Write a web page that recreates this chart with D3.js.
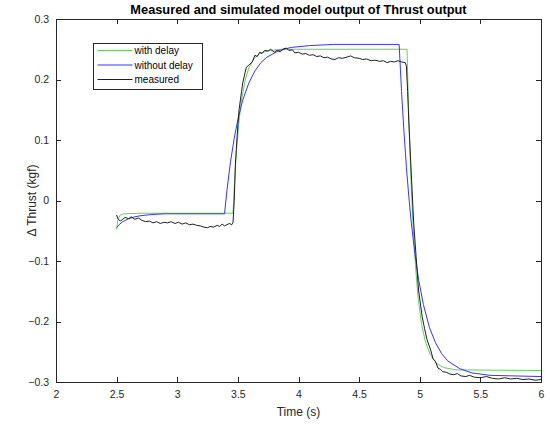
<!DOCTYPE html>
<meta charset="UTF-8">
<style>
  body { margin: 0; background: #fff; }
  svg { font-family: "Liberation Sans", Arial, sans-serif; }
</style>
<svg width="550" height="425"></svg>
<script src="https://cdn.jsdelivr.net/npm/d3@7"></script>
<script>

// series: [time (s), delta thrust (kgf)]
var withDelay = [
  [2.50, -0.048], [2.51, -0.032], [2.53, -0.024], [2.56, -0.022], [2.70, -0.021],
  [3.46, -0.021], [3.47, 0.021], [3.48, 0.056], [3.49, 0.086], [3.51, 0.132],
  [3.53, 0.166], [3.56, 0.199], [3.59, 0.219], [3.63, 0.234], [3.68, 0.243],
  [3.76, 0.248], [3.86, 0.250], [4.895, 0.250], [4.905, 0.170], [4.915, 0.104],
  [4.93, 0.022], [4.945, -0.042], [4.965, -0.108], [4.985, -0.158], [5.015, -0.205],
  [5.045, -0.232], [5.085, -0.254], [5.135, -0.269], [5.195, -0.276], [5.30, -0.280],
  [6.00, -0.281]
];

var withoutDelay = [
  [2.50, -0.045], [2.52, -0.040], [2.55, -0.035], [2.60, -0.030], [2.65, -0.027],
  [2.70, -0.025], [2.80, -0.023], [2.90, -0.022], [3.39, -0.022], [3.41, 0.017],
  [3.44, 0.065], [3.47, 0.103], [3.50, 0.134], [3.54, 0.166], [3.59, 0.194],
  [3.64, 0.214], [3.69, 0.228], [3.74, 0.237], [3.84, 0.248], [3.94, 0.253],
  [4.09, 0.256], [4.29, 0.258], [4.83, 0.258], [4.85, 0.180], [4.87, 0.113],
  [4.89, 0.055], [4.91, 0.006], [4.93, -0.036], [4.96, -0.088], [4.99, -0.130],
  [5.03, -0.172], [5.08, -0.210], [5.13, -0.235], [5.18, -0.253], [5.23, -0.265],
  [5.33, -0.278], [5.43, -0.285], [5.58, -0.289], [6.00, -0.291]
];

var measured = [
  [2.50, -0.024], [2.51, -0.030], [2.53, -0.034], [2.55, -0.031], [2.57, -0.028],
  [2.60, -0.030], [2.62, -0.027], [2.65, -0.031], [2.68, -0.029], [2.71, -0.033],
  [2.74, -0.035], [2.77, -0.034], [2.80, -0.037], [2.83, -0.035], [2.86, -0.038],
  [2.89, -0.036], [2.92, -0.037], [2.95, -0.035], [2.98, -0.038], [3.01, -0.036],
  [3.04, -0.039], [3.07, -0.037], [3.10, -0.040], [3.13, -0.039], [3.16, -0.041],
  [3.19, -0.042], [3.22, -0.044], [3.25, -0.045], [3.27, -0.043], [3.30, -0.044],
  [3.33, -0.041], [3.35, -0.043], [3.37, -0.039], [3.39, -0.042], [3.41, -0.040],
  [3.43, -0.038], [3.45, -0.040], [3.46, -0.036], [3.47, 0.000], [3.48, 0.062],
  [3.50, 0.125], [3.51, 0.150], [3.53, 0.180], [3.54, 0.194], [3.56, 0.212],
  [3.57, 0.220], [3.59, 0.224], [3.62, 0.229], [3.64, 0.240], [3.66, 0.238],
  [3.68, 0.245], [3.70, 0.243], [3.72, 0.248], [3.75, 0.247], [3.77, 0.250],
  [3.80, 0.245], [3.82, 0.248], [3.85, 0.246], [3.88, 0.251], [3.90, 0.252],
  [3.92, 0.248], [3.95, 0.249], [3.97, 0.244], [4.00, 0.245], [4.03, 0.242],
  [4.06, 0.243], [4.09, 0.240], [4.12, 0.241], [4.15, 0.238], [4.18, 0.239],
  [4.21, 0.236], [4.24, 0.237], [4.27, 0.234], [4.30, 0.233], [4.33, 0.236],
  [4.36, 0.235], [4.40, 0.237], [4.43, 0.239], [4.46, 0.236], [4.50, 0.235],
  [4.53, 0.233], [4.56, 0.234], [4.60, 0.231], [4.63, 0.232], [4.67, 0.230],
  [4.70, 0.231], [4.73, 0.228], [4.76, 0.230], [4.79, 0.229], [4.82, 0.231],
  [4.85, 0.229], [4.88, 0.228], [4.89, 0.222], [4.90, 0.180], [4.91, 0.130],
  [4.93, 0.045], [4.95, -0.037], [4.97, -0.093], [4.99, -0.148], [5.02, -0.192],
  [5.04, -0.212], [5.06, -0.230], [5.09, -0.247], [5.11, -0.262], [5.13, -0.266],
  [5.15, -0.277], [5.17, -0.279], [5.19, -0.283], [5.22, -0.284], [5.25, -0.287],
  [5.28, -0.288], [5.31, -0.286], [5.34, -0.290], [5.38, -0.291], [5.41, -0.289],
  [5.45, -0.292], [5.50, -0.293], [5.55, -0.291], [5.60, -0.294], [5.65, -0.295],
  [5.70, -0.293], [5.75, -0.295], [5.80, -0.294], [5.85, -0.296], [5.90, -0.295],
  [5.95, -0.297], [6.00, -0.296]
];

var xTicks = [2, 2.5, 3, 3.5, 4, 4.5, 5, 5.5, 6];
var yTicks = [-0.3, -0.2, -0.1, 0, 0.1, 0.2, 0.3];
var seriesNames = ["with delay", "without delay", "measured"];

var svg = d3.select("svg"),
    margin = {top: 19, right: 9, bottom: 43, left: 56},
    width = 550 - margin.left - margin.right,
    height = 425 - margin.top - margin.bottom,
    axisColor = "#262626";

var x = d3.scaleLinear().domain([2, 6]).range([0, width]);
var y = d3.scaleLinear().domain([-0.3, 0.3]).range([height, 0]);

var g = svg.append("g").attr("transform", "translate(" + margin.left + "," + margin.top + ")");

var line = d3.line().x(d => x(d[0])).y(d => y(d[1]));

var series = [
  {data: withDelay, color: "#62cf62"},
  {data: withoutDelay, color: "#3535ff"},
  {data: measured, color: "#1f1f1f"}
];

series.forEach(function(s) {
  g.append("path").datum(s.data)
      .attr("fill", "none")
      .attr("stroke", s.color)
      .attr("stroke-width", 1)
      .attr("d", line);
});

// axes with inward ticks, MATLAB box style
function styleAxis(sel, showLabels) {
  sel.select(".domain").remove();
  sel.selectAll("line").attr("stroke", axisColor).attr("shape-rendering", "crispEdges");
  sel.selectAll("text").attr("fill", axisColor).attr("font-size", 10.5)
      .style("display", showLabels ? null : "none");
}

g.append("g").attr("transform", "translate(0," + height + ")")
    .call(d3.axisBottom(x).tickValues(xTicks).tickSize(-5).tickPadding(9).tickFormat(d3.format("")))
    .call(sel => styleAxis(sel, true));
g.append("g")
    .call(d3.axisTop(x).tickValues(xTicks).tickSize(-5).tickFormat(""))
    .call(sel => styleAxis(sel, false));
g.append("g")
    .call(d3.axisLeft(y).tickValues(yTicks).tickSize(-5).tickPadding(7).tickFormat(d3.format("")))
    .call(sel => styleAxis(sel, true));
g.append("g").attr("transform", "translate(" + width + ",0)")
    .call(d3.axisRight(y).tickValues(yTicks).tickSize(-5).tickFormat(""))
    .call(sel => styleAxis(sel, false));

g.append("rect")
    .attr("x", 0.5).attr("y", 0.5)
    .attr("width", width).attr("height", height)
    .attr("fill", "none").attr("stroke", axisColor)
    .attr("shape-rendering", "crispEdges");

svg.append("text")
    .attr("x", margin.left + width / 2).attr("y", 14)
    .attr("text-anchor", "middle").attr("font-weight", "bold").attr("font-size", 12.8)
    .attr("fill", "#000")
    .text("Measured and simulated model output of Thrust output");

svg.append("text")
    .attr("x", margin.left + width / 2).attr("y", 416)
    .attr("text-anchor", "middle").attr("font-size", 12).attr("fill", axisColor)
    .text("Time (s)");

svg.append("text")
    .attr("transform", "translate(36," + (margin.top + height / 2) + ") rotate(-90)")
    .attr("text-anchor", "middle").attr("font-size", 12).attr("fill", axisColor)
    .text("\u0394 Thrust (kgf)");

// legend
var legend = svg.append("g").attr("transform", "translate(93.5,43.5)");
legend.append("rect")
    .attr("width", 109).attr("height", 46)
    .attr("fill", "#fff").attr("stroke", axisColor)
    .attr("shape-rendering", "crispEdges");
seriesNames.forEach(function(name, i) {
  var ly = 7 + i * 14.5;
  legend.append("line")
      .attr("x1", 4).attr("x2", 39).attr("y1", ly).attr("y2", ly)
      .attr("stroke", series[i].color).attr("stroke-width", 1);
  legend.append("text")
      .attr("x", 41).attr("y", ly + 3.5)
      .attr("font-size", 10).attr("fill", "#000")
      .text(name);
});
</script>
